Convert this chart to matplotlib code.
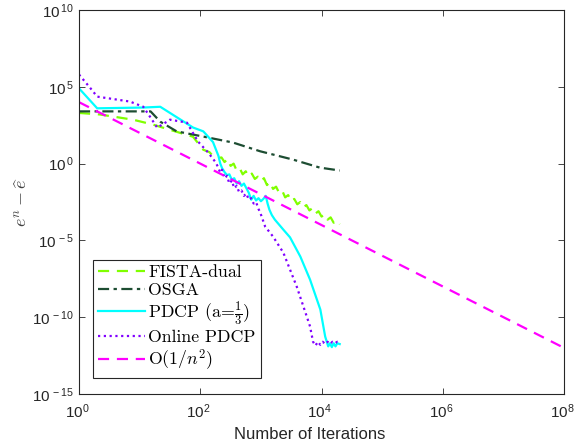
import numpy as np
import matplotlib.pyplot as plt
import matplotlib.transforms as mtransforms
from matplotlib.font_manager import FontProperties

plt.rcParams['mathtext.fontset'] = 'custom'
plt.rcParams['mathtext.rm'] = 'Liberation Sans'
plt.rcParams['mathtext.it'] = 'Liberation Sans:italic'
plt.rcParams['font.family'] = 'Liberation Sans'
plt.rcParams['axes.unicode_minus'] = False

# log10 of iteration count and log10 of the error for each method
fista_x = [0, 0.34, 0.89, 1.22, 1.5, 1.88, 2.05, 2.15, 2.22, 2.28,
           2.35, 2.40, 2.45, 2.50, 2.55, 2.60, 2.65, 2.70, 2.75, 2.80, 2.85, 2.90, 2.95, 3.00,
           3.05, 3.10, 3.15, 3.20, 3.25, 3.30, 3.35, 3.40, 3.45, 3.50, 3.55, 3.60, 3.65, 3.70,
           3.75, 3.80, 3.85, 3.90, 3.95, 4.00, 4.05, 4.10, 4.15, 4.20, 4.25, 4.30]
fista_y = [3.3, 3.2, 2.86, 2.54, 2.2, 1.75, 0.9, 0.75, 0.45, 0.35,
           0.4, 0.1, 0.3, -0.15, 0.0, -0.45, -0.3, -0.7, -0.5, -0.85, -0.65, -1.0, -0.85, -1.15,
           -0.95, -1.4, -1.2, -1.65, -1.5, -1.9, -1.75, -2.2, -2.05, -2.45, -2.3, -2.65, -2.5, -2.85,
           -2.7, -3.05, -2.9, -3.25, -3.1, -3.45, -3.3, -3.65, -3.5, -3.85, -3.7, -3.95]

osga_x = [0, 1.18, 1.34, 1.61, 2.05, 2.54, 2.99, 3.53, 3.97, 4.30]
osga_y = [3.4, 3.4, 2.73, 2.1, 1.76, 1.37, 0.8, 0.26, -0.26, -0.45]

pdcp_x = [0, 0.30, 1.06, 1.34, 1.62, 1.88, 2.05, 2.21,
          2.30, 2.33, 2.36, 2.40, 2.44, 2.48, 2.52, 2.56, 2.60, 2.64, 2.68, 2.72, 2.76, 2.80,
          2.84, 2.88, 2.92, 2.96, 3.00, 3.04, 3.08, 3.11, 3.14, 3.18, 3.23,
          3.37, 3.48, 3.65, 3.81, 3.98, 4.06, 4.11,
          4.14, 4.17, 4.20, 4.23, 4.26, 4.30]
pdcp_y = [4.9, 3.6, 3.65, 3.7, 3.0, 2.35, 2.1, 1.4,
          0.5, 0.0, -0.3, -0.55, -0.75, -0.7, -1.05, -0.95, -1.3, -1.15, -1.45, -1.3, -1.6, -1.9,
          -2.35, -2.1, -2.4, -2.25, -2.45, -2.3, -2.1, -2.6, -3.0, -3.35, -3.65,
          -4.3, -4.8, -6.05, -7.55, -9.5, -11.26, -11.9,
          -11.7, -11.95, -11.7, -11.9, -11.7, -11.75]

online_x = [0, 0.18, 0.30, 0.84, 1.06, 1.18, 1.29, 1.45, 1.50, 1.78, 1.96, 2.13, 2.25,
            2.29, 2.33, 2.36, 2.40, 2.44, 2.48, 2.52, 2.56, 2.60, 2.64, 2.68, 2.72, 2.76, 2.80,
            2.84, 2.88, 2.92, 2.96, 2.99, 3.07, 3.20, 3.37, 3.59, 3.76, 3.81, 3.86, 3.90,
            3.94, 3.98, 4.02, 4.06, 4.10, 4.14, 4.18, 4.22, 4.26, 4.30]
online_y = [5.8, 4.95, 4.36, 4.04, 3.7, 3.0, 2.34, 2.73, 2.86, 2.67, 1.45, 0.72, 0.1,
            -0.2, -0.6, -0.4, -0.95, -0.8, -1.3, -1.1, -1.6, -1.45, -1.85, -1.75, -2.1, -1.95, -2.35,
            -2.25, -2.6, -2.5, -2.95, -3.2, -4.1, -4.75, -5.8, -8.0, -10.0, -10.6, -11.6, -11.85,
            -11.6, -11.8, -11.6, -11.75, -11.6, -11.75, -11.6, -11.7, -11.6, -11.65]

ref_n = [1, 1e8]
ref_err = [1e4, 1e-12]

fig = plt.figure(figsize=(5.75, 4.47), dpi=100)
ax = fig.add_axes([0.1374, 0.1186, 0.8436, 0.859])


def pw(v):
    return 10.0 ** np.array(v)


lw = 1.6
ax.loglog(pw(fista_x), pw(fista_y), '--', color='#80ff00', lw=lw,
          dashes=(5, 3.5), label='FISTA-dual')
ax.loglog(pw(osga_x), pw(osga_y), '-.', color='#1d4d32', lw=lw,
          dashes=(5, 2, 1.5, 2), label='OSGA')
ax.loglog(pw(pdcp_x), pw(pdcp_y), '-', color='#00ffff', lw=lw,
          label=r'PDCP (a=$\frac{1}{3}$)')
ax.loglog(pw(online_x), pw(online_y), ':', color='#8000ff', lw=lw,
          dashes=(1, 1.6), label='Online PDCP')
ax.loglog(ref_n, ref_err, '--', color='#ff00ff', lw=lw, dashes=(5, 3.5), label=r'O(1/$n^2$)')

ax.set_xlim(1, 1e8)
ax.set_ylim(1e-15, 1e10)
ax.set_xticks([1, 1e2, 1e4, 1e6, 1e8])
ax.set_xticklabels([r'$10^{%d}$' % k for k in [0, 2, 4, 6, 8]])
ax.set_yticks([1e-15, 1e-10, 1e-5, 1, 1e5, 1e10])
ax.set_yticklabels([r'$10^{\,%d}$' % k for k in [-15, -10, -5, 0, 5, 10]])
ax.minorticks_off()
ax.tick_params(direction='in', length=4, width=0.6, labelsize=11, colors='#262626',
               top=True, right=True)
ax.tick_params(axis='x', pad=6)
# nudge x tick labels a little to the left
shift = mtransforms.ScaledTranslation(-2 / 100, 0, fig.dpi_scale_trans)
for lab in ax.get_xticklabels():
    lab.set_transform(lab.get_transform() + shift)
for s in ax.spines.values():
    s.set_color('#262626')
    s.set_linewidth(0.8)

ax.set_xlabel('Number of Iterations', fontsize=12, color='#262626')
ax.xaxis.set_label_coords(0.476, -0.085)
ax.set_ylabel(r'$e^n-\widehat{e}$', fontsize=13, color='#404040', math_fontfamily='cm', labelpad=1)

leg_font = FontProperties(family='cmr10', size=12.8, math_fontfamily='cm')
leg = ax.legend(loc='lower left', bbox_to_anchor=(0.029, 0.042), prop=leg_font,
                handlelength=2.6, handletextpad=0.2, labelspacing=0.12, borderpad=0.3,
                borderaxespad=0, fancybox=False, framealpha=1)
leg.get_frame().set_edgecolor('#262626')
leg.get_frame().set_linewidth(0.8)

fig.savefig('out.png', dpi=100)
